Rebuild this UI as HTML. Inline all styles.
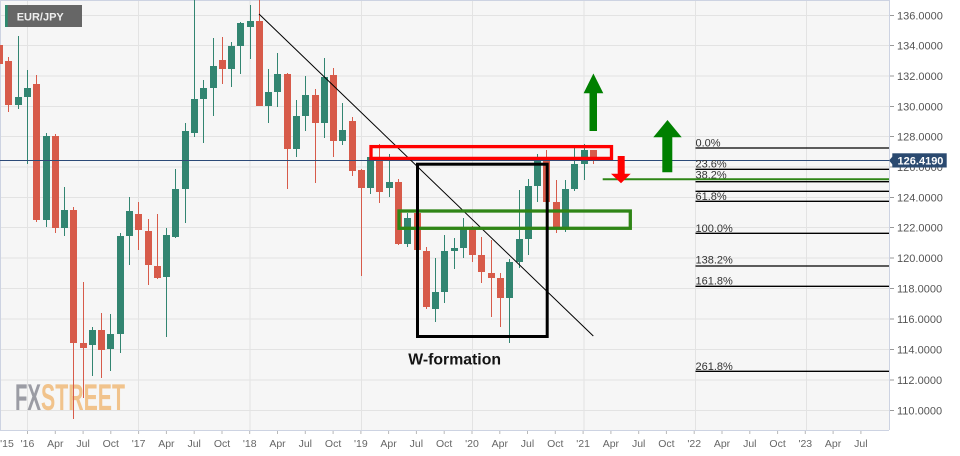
<!DOCTYPE html>
<html><head><meta charset="utf-8"><style>
html,body{margin:0;padding:0;background:#fff;}
svg{display:block;font-family:"Liberation Sans",Arial,sans-serif;}
</style></head><body>
<svg width="960" height="456" viewBox="0 0 960 456" xmlns="http://www.w3.org/2000/svg">
<rect x="0" y="0" width="960" height="456" fill="#ffffff"/>
<rect x="0" y="0" width="889" height="430" fill="#f6f6f6"/>
<!-- horizontal grid -->
<g stroke="#e3e3e3" stroke-width="1">
<line x1="0" x2="889" y1="15.5" y2="15.5"/>
<line x1="0" x2="889" y1="45.5" y2="45.5"/>
<line x1="0" x2="889" y1="76" y2="76"/>
<line x1="0" x2="889" y1="106.5" y2="106.5"/>
<line x1="0" x2="889" y1="136.5" y2="136.5"/>
<line x1="0" x2="889" y1="167" y2="167"/>
<line x1="0" x2="889" y1="197.5" y2="197.5"/>
<line x1="0" x2="889" y1="227.5" y2="227.5"/>
<line x1="0" x2="889" y1="258" y2="258"/>
<line x1="0" x2="889" y1="288.5" y2="288.5"/>
<line x1="0" x2="889" y1="319" y2="319"/>
<line x1="0" x2="889" y1="349.5" y2="349.5"/>
<line x1="0" x2="889" y1="380" y2="380"/>
<line x1="0" x2="889" y1="410.5" y2="410.5"/>
</g>
<!-- vertical grid -->
<g stroke="#e3e3e3" stroke-width="1">
<line y1="0" y2="430" x1="27.5" x2="27.5"/>
<line y1="0" y2="430" x1="138.5" x2="138.5"/>
<line y1="0" y2="430" x1="250" x2="250"/>
<line y1="0" y2="430" x1="361.5" x2="361.5"/>
<line y1="0" y2="430" x1="472.5" x2="472.5"/>
<line y1="0" y2="430" x1="584" x2="584"/>
<line y1="0" y2="430" x1="695.5" x2="695.5"/>
<line y1="0" y2="430" x1="806.5" x2="806.5"/>
</g>
<!-- borders -->
<g stroke="#cdd3e2" stroke-width="1" fill="none">
<line x1="0" x2="889" y1="0.5" y2="0.5"/>
<line x1="0.5" x2="0.5" y1="0" y2="430"/>
<line x1="889.5" x2="889.5" y1="0" y2="430"/>
<line x1="0" x2="889" y1="430.5" y2="430.5"/>
</g>
<!-- logo -->
<text x="15" y="410" font-size="37" font-weight="bold" fill="#9b9ca4" textLength="26" lengthAdjust="spacingAndGlyphs">FX</text>
<text x="41" y="410" font-size="37" font-weight="bold" fill="#f1c38c" textLength="84" lengthAdjust="spacingAndGlyphs">STREET</text>

<!-- green candles -->
<g fill="#328571" stroke="#328571">
<path stroke-width="1" fill="none" d="M18.5 36V109M27.5 70V164M46.5 133V227M64.5 187V236M92.5 327V376M110.5 314V371M120.5 233V353M129.5 197V265M166.5 228V337M175.5 169V238M185.5 123V223M194.5 0V137M203.5 80V143M213.5 38V116M231.5 42V87M240.5 22V74M250.5 5V59M268.5 69V123M277.5 53V107M296.5 100V157M305.5 76V131M324.5 58V138M342.5 103V145M370.5 148V194M389.5 154V197M407.5 213V247M435.5 258V322M444.5 235V303M454.5 238V269M463.5 218V258M509.5 259V343M519.5 190V268M528.5 179V255M537.5 154V202M565.5 180V232M574.5 148V191M584.5 144V180"/>
<g stroke="none">
<rect x="15" y="97" width="7" height="8"/>
<rect x="24" y="88" width="7" height="9"/>
<rect x="43" y="136" width="7" height="84"/>
<rect x="61" y="210" width="7" height="18"/>
<rect x="89" y="330" width="7" height="15"/>
<rect x="107" y="334" width="7" height="15"/>
<rect x="117" y="236" width="7" height="98"/>
<rect x="126" y="211" width="7" height="25"/>
<rect x="163" y="235" width="7" height="42"/>
<rect x="172" y="189" width="7" height="48"/>
<rect x="182" y="131" width="7" height="58"/>
<rect x="191" y="99" width="7" height="34"/>
<rect x="200" y="88" width="7" height="11"/>
<rect x="210" y="66" width="7" height="22"/>
<rect x="228" y="46" width="7" height="23"/>
<rect x="237" y="23" width="7" height="23"/>
<rect x="247" y="21" width="7" height="6"/>
<rect x="265" y="92" width="7" height="14"/>
<rect x="274" y="74" width="7" height="18"/>
<rect x="293" y="116" width="7" height="33"/>
<rect x="302" y="95" width="7" height="21"/>
<rect x="321" y="77" width="7" height="46"/>
<rect x="339" y="130" width="7" height="11"/>
<rect x="367" y="157" width="7" height="31"/>
<rect x="386" y="182" width="7" height="6"/>
<rect x="404" y="218" width="7" height="26"/>
<rect x="432" y="292" width="7" height="17"/>
<rect x="441" y="251" width="7" height="41"/>
<rect x="451" y="248" width="7" height="3"/>
<rect x="460" y="229" width="7" height="19"/>
<rect x="506" y="262" width="7" height="36"/>
<rect x="516" y="239" width="7" height="23"/>
<rect x="525" y="186" width="7" height="53"/>
<rect x="534" y="161" width="7" height="25"/>
<rect x="562" y="189" width="7" height="40"/>
<rect x="571" y="164" width="7" height="25"/>
<rect x="581" y="150" width="7" height="14"/>
</g>
</g>
<!-- red candles -->
<g fill="#d75b4a" stroke="#d75b4a">
<path stroke-width="1" fill="none" d="M-0.5 0V82M8.5 57V112M36.5 75V222M55.5 134V233M73.5 207V419M83.5 282V398M101.5 313V378M138.5 202V250M148.5 219V285M157.5 214V279M222.5 37V84M259.5 0V106M287.5 73V189M315.5 89V183M333.5 68V157M352.5 117V176M361.5 169V276M379.5 144V203M398.5 179V245M417.5 210V251M426.5 247V309M472.5 226V262M481.5 237V283M491.5 240V317M500.5 273V327M546.5 150V202M556.5 180V233M593.5 150V164"/>
<g stroke="none">
<rect x="-4" y="45" width="7" height="19"/>
<rect x="5" y="61" width="7" height="44"/>
<rect x="33" y="84" width="7" height="136"/>
<rect x="52" y="136" width="7" height="92"/>
<rect x="70" y="210" width="7" height="133"/>
<rect x="80" y="343" width="7" height="5"/>
<rect x="98" y="330" width="7" height="20"/>
<rect x="135" y="214" width="7" height="16"/>
<rect x="145" y="231" width="7" height="34"/>
<rect x="154" y="266" width="7" height="12"/>
<rect x="219" y="60" width="7" height="9"/>
<rect x="256" y="21" width="7" height="85"/>
<rect x="284" y="74" width="7" height="75"/>
<rect x="312" y="95" width="7" height="28"/>
<rect x="330" y="75" width="7" height="66"/>
<rect x="349" y="121" width="7" height="50"/>
<rect x="358" y="170" width="7" height="18"/>
<rect x="376" y="157" width="7" height="35"/>
<rect x="395" y="182" width="7" height="62"/>
<rect x="414" y="213" width="7" height="37"/>
<rect x="423" y="251" width="7" height="56"/>
<rect x="469" y="229" width="7" height="26"/>
<rect x="478" y="255" width="7" height="17"/>
<rect x="488" y="273" width="7" height="5"/>
<rect x="497" y="278" width="7" height="20"/>
<rect x="543" y="161" width="7" height="41"/>
<rect x="553" y="202" width="7" height="26"/>
<rect x="590" y="150" width="7" height="9"/>
</g>
</g>

<!-- current price line -->
<line x1="0" x2="889" y1="160.5" y2="160.5" stroke="#2c4a78" stroke-width="1"/>

<!-- fib levels -->
<g stroke="#000" stroke-width="1.3">
<line x1="695.5" x2="889" y1="148" y2="148"/>
<line x1="695.5" x2="889" y1="169.3" y2="169.3"/>
<line x1="695.5" x2="889" y1="181.7" y2="181.7"/>
<line x1="695.5" x2="889" y1="191.3" y2="191.3"/>
<line x1="695.5" x2="889" y1="201.3" y2="201.3"/>
<line x1="695.5" x2="889" y1="233.3" y2="233.3"/>
<line x1="695.5" x2="889" y1="266" y2="266"/>
<line x1="695.5" x2="889" y1="286.3" y2="286.3"/>
<line x1="695.5" x2="889" y1="371.3" y2="371.3"/>
</g>
<g font-size="11" fill="#333">
<text x="695.5" y="146.7">0.0%</text>
<text x="695.5" y="167.3">23.6%</text>
<text x="695.5" y="178.3">38.2%</text>
<text x="695.5" y="200">61.8%</text>
<text x="695.5" y="232">100.0%</text>
<text x="695.5" y="263.7">138.2%</text>
<text x="695.5" y="284.3">161.8%</text>
<text x="695.5" y="370">261.8%</text>
</g>

<!-- green horizontal line -->
<line x1="602.7" x2="889" y1="179.2" y2="179.2" stroke="#2f8516" stroke-width="2"/>

<!-- diagonal trendline -->
<line x1="259" y1="14" x2="593.3" y2="336" stroke="#000" stroke-width="1"/>

<!-- boxes -->
<rect x="371" y="146.6" width="240.5" height="11.8" fill="none" stroke="#ff0000" stroke-width="3.3"/>
<rect x="399" y="211" width="231.3" height="17.3" fill="none" stroke="#2f8516" stroke-width="3.3"/>
<rect x="417.5" y="164.2" width="129.7" height="172.3" fill="none" stroke="#000" stroke-width="3"/>

<!-- arrows -->
<polygon fill="#008000" points="589.5,131 597,131 597,93.3 603.3,93.3 593.4,73.5 583.6,93.3 589.5,93.3"/>
<polygon fill="#008000" points="662.3,172.3 672.3,172.3 672.3,137.3 681.7,137.3 667.5,120 653.3,137.3 662.3,137.3"/>
<polygon fill="#ff0000" points="617.7,156 624.7,156 624.7,173.8 630.7,173.8 621,183.3 611,173.8 617.7,173.8"/>

<!-- W-formation -->
<text x="408.3" y="364.7" font-size="16" font-weight="bold" fill="#141414" textLength="92.7" lengthAdjust="spacingAndGlyphs">W-formation</text>

<!-- symbol label -->
<rect x="5" y="5" width="77" height="22" fill="#666666"/>
<rect x="5" y="5" width="2.7" height="22" fill="#2e8a6e"/>
<text x="16.7" y="20.7" font-size="11" font-weight="bold" fill="#eeeeee">EUR/JPY</text>

<!-- y axis ticks & labels -->
<g stroke="#999" stroke-width="1">
<line x1="890" x2="894" y1="15.5" y2="15.5"/>
<line x1="890" x2="894" y1="45.5" y2="45.5"/>
<line x1="890" x2="894" y1="76" y2="76"/>
<line x1="890" x2="894" y1="106.5" y2="106.5"/>
<line x1="890" x2="894" y1="136.5" y2="136.5"/>
<line x1="890" x2="894" y1="167" y2="167"/>
<line x1="890" x2="894" y1="197.5" y2="197.5"/>
<line x1="890" x2="894" y1="227.5" y2="227.5"/>
<line x1="890" x2="894" y1="258" y2="258"/>
<line x1="890" x2="894" y1="288.5" y2="288.5"/>
<line x1="890" x2="894" y1="319" y2="319"/>
<line x1="890" x2="894" y1="349.5" y2="349.5"/>
<line x1="890" x2="894" y1="380" y2="380"/>
<line x1="890" x2="894" y1="410.5" y2="410.5"/>
</g>
<g font-size="11" fill="#555">
<text x="897" y="19.3">136.0000</text>
<text x="897" y="49.5">134.0000</text>
<text x="897" y="80">132.0000</text>
<text x="897" y="110.5">130.0000</text>
<text x="897" y="140.7">128.0000</text>
<text x="897" y="171">126.0000</text>
<text x="897" y="201.5">124.0000</text>
<text x="897" y="231.5">122.0000</text>
<text x="897" y="262">120.0000</text>
<text x="897" y="292.5">118.0000</text>
<text x="897" y="323">116.0000</text>
<text x="897" y="353.5">114.0000</text>
<text x="897" y="384">112.0000</text>
<text x="897" y="414.5">110.0000</text>
</g>
<!-- price label -->
<polygon points="889,160.5 892.5,156.5 892.5,164.5" fill="#2b4a70"/>
<rect x="892.3" y="153.3" width="54.4" height="14.2" fill="#2b4a70"/>
<text x="920.5" y="164.6" font-size="11" font-weight="bold" fill="#ffffff" text-anchor="middle">126.4190</text>

<!-- x axis ticks -->
<g stroke="#b8b8b8" stroke-width="1">
<path d="M27.5 431V434M55.3 431V434M83.1 431V434M110.8 431V434M138.6 431V434M166.4 431V434M194.2 431V434M222 431V434M249.7 431V434M277.5 431V434M305.3 431V434M333.1 431V434M360.9 431V434M388.6 431V434M416.4 431V434M444.2 431V434M472 431V434M499.8 431V434M527.5 431V434M555.3 431V434M583.1 431V434M610.9 431V434M638.7 431V434M666.4 431V434M694.2 431V434M722 431V434M749.8 431V434M777.6 431V434M805.3 431V434M833.1 431V434M860.9 431V434"/>
</g>
<g font-size="10.5" fill="#666" text-anchor="middle">
<text x="7" y="447">'15</text>
<text x="27.5" y="447">'16</text>
<text x="55.3" y="447">Apr</text>
<text x="83.1" y="447">Jul</text>
<text x="110.8" y="447">Oct</text>
<text x="138.6" y="447">'17</text>
<text x="166.4" y="447">Apr</text>
<text x="194.2" y="447">Jul</text>
<text x="222" y="447">Oct</text>
<text x="249.7" y="447">'18</text>
<text x="277.5" y="447">Apr</text>
<text x="305.3" y="447">Jul</text>
<text x="333.1" y="447">Oct</text>
<text x="360.9" y="447">'19</text>
<text x="388.6" y="447">Apr</text>
<text x="416.4" y="447">Jul</text>
<text x="444.2" y="447">Oct</text>
<text x="472" y="447">'20</text>
<text x="499.8" y="447">Apr</text>
<text x="527.5" y="447">Jul</text>
<text x="555.3" y="447">Oct</text>
<text x="583.1" y="447">'21</text>
<text x="610.9" y="447">Apr</text>
<text x="638.7" y="447">Jul</text>
<text x="666.4" y="447">Oct</text>
<text x="694.2" y="447">'22</text>
<text x="722" y="447">Apr</text>
<text x="749.8" y="447">Jul</text>
<text x="777.6" y="447">Oct</text>
<text x="805.3" y="447">'23</text>
<text x="833.1" y="447">Apr</text>
<text x="860.9" y="447">Jul</text>
</g>
</svg>
</body></html>
